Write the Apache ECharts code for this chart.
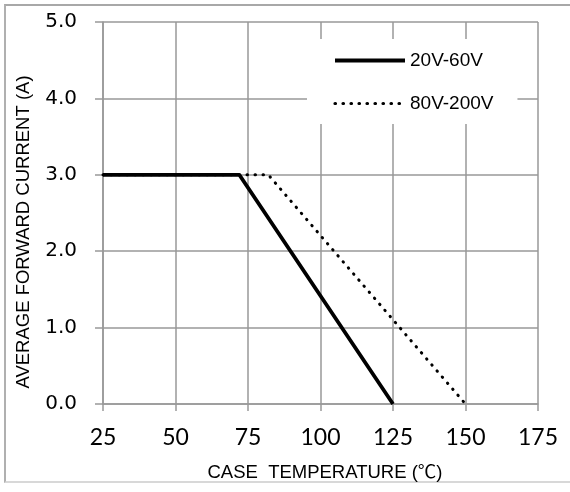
<!DOCTYPE html>
<html>
<head>
<meta charset="utf-8">
<script src="https://cdn.jsdelivr.net/npm/echarts@6/dist/echarts.min.js"></script>
<style>
html,body{margin:0;padding:0;background:#fff;}
#frame{position:absolute;left:4px;top:4px;width:570px;height:479px;border-left:2px solid #b0b0b0;border-top:2px solid #a8a8a8;border-bottom:2px solid #d8d8d8;box-sizing:border-box;}
#chart{position:absolute;left:0;top:0;width:570px;height:492px;}
</style>
</head>
<body>
<div id="frame"></div>
<div id="chart"></div>
<script>
const xTicks = [25, 50, 75, 100, 125, 150, 175];
const yTicks = [0, 1, 2, 3, 4, 5];
const xTitle = 'CASE  TEMPERATURE (℃)';
const yTitle = 'AVERAGE FORWARD CURRENT (A)';
const series1Name = '20V-60V';
const series1Data = [[25, 3.0], [72, 3.0], [125, 0.0]];
const series2Name = '80V-200V';
const series2Data = [[25, 3.0], [82, 3.0], [150, 0.0]];

const chart = echarts.init(document.getElementById('chart'), null, {renderer: 'canvas'});
const gridColor = '#999999';
chart.setOption({
  animation: false,
  grid: {left: 103, right: 32, top: 22, bottom: 88, containLabel: false},
  legend: {
    orient: 'vertical',
    left: 307, top: 39, padding: [12, 24, 11, 26],
    backgroundColor: '#ffffff',
    itemWidth: 70, itemHeight: 14, itemGap: 24,
    itemStyle: {opacity: 0},
    textStyle: {fontFamily: 'Liberation Sans', fontSize: 19, color: '#000', padding: [0,0,0,0]},
    data: [
      {name: series1Name, lineStyle: {width: 4, color: '#000', type: 'solid'}},
      {name: series2Name, lineStyle: {width: 3.2, color: '#000', type: [0.5, 7.5], cap: 'round'}}
    ]
  },
  graphic: [
    {
      type: 'text', x: 0, y: 0,
      style: {text: xTitle, fontFamily: '"Liberation Sans", "Noto Sans CJK SC"', fontSize: 18.5, fill: '#000',
        x: 325, y: 473, textAlign: 'center', textVerticalAlign: 'middle'}
    },
    {
      type: 'text', x: 24, y: 232, rotation: Math.PI / 2,
      style: {text: yTitle, fontFamily: 'Liberation Sans', fontSize: 18.5, fill: '#000',
        x: 0, y: 0, textAlign: 'center', textVerticalAlign: 'middle'}
    }
  ],
  xAxis: {
    type: 'value', min: xTicks[0], max: xTicks[xTicks.length-1], interval: 25,
    axisLine: {show: true, lineStyle: {color: gridColor, width: 1.5}},
    axisTick: {show: true, length: 7, lineStyle: {color: gridColor, width: 1.5}},
    axisLabel: {fontFamily: 'Lato', fontSize: 23, color: '#000', margin: 22},
    splitLine: {show: true, lineStyle: {color: gridColor, width: 1.5}}
  },
  yAxis: {
    type: 'value', min: yTicks[0], max: yTicks[yTicks.length-1], interval: 1,
    axisLine: {show: true, lineStyle: {color: gridColor, width: 1.5}},
    axisTick: {show: true, length: 8, lineStyle: {color: gridColor, width: 1.5}},
    axisLabel: {fontFamily: 'DejaVu Sans', fontSize: 20, color: '#000', margin: 26,
      formatter: v => v.toFixed(1)},
    splitLine: {show: true, lineStyle: {color: gridColor, width: 1.5}}
  },
  series: [
    {
      name: series1Name, type: 'line', data: series1Data, symbol: 'none', showSymbol: false,
      lineStyle: {color: '#000', width: 3.8, type: 'solid'}, itemStyle: {color: '#000'}, z: 3
    },
    {
      name: series2Name, type: 'line', data: series2Data, symbol: 'none', showSymbol: false,
      lineStyle: {color: '#000', width: 3, type: [0.5, 7.5], cap: 'round'}, itemStyle: {color: '#000'}, z: 2
    }
  ]
});
</script>
</body>
</html>
